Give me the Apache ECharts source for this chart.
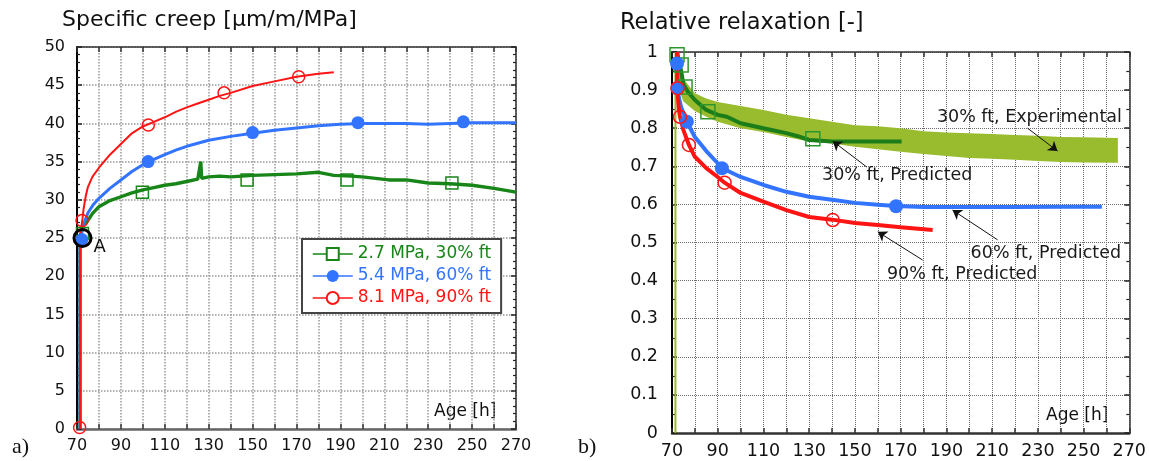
<!DOCTYPE html>
<html><head><meta charset="utf-8">
<script src="https://cdn.jsdelivr.net/npm/echarts@6/dist/echarts.min.js"></script>
<style>html,body{margin:0;padding:0;background:#fff}#c{width:1149px;height:461px}</style>
</head><body><div id="c"></div>
<script>
// ---------- tick labels ----------
const ageTickLabels = [70, 90, 110, 130, 150, 170, 190, 210, 230, 250, 270];
const creepTickLabels = [0, 5, 10, 15, 20, 25, 30, 35, 40, 45, 50];
const relaxTickLabels = [0, 0.1, 0.2, 0.3, 0.4, 0.5, 0.6, 0.7, 0.8, 0.9, 1];

// ---------- a) specific creep [age h, µm/m/MPa] ----------
const seriesNamesA = ['2.7 MPa, 30% ft', '5.4 MPa, 60% ft', '8.1 MPa, 90% ft'];
const creep30 = [[71.4,0],[71.4,25.3],[72,25.8],[73,26.6],[75,27.3],[77,28.2],[80,29.1],[85,29.9],[90,30.4],[95,30.9],[100,31.3],[105,31.6],[110,31.9],[115,32.1],[120,32.4],[125,32.7],[126.4,35.0],[126.8,32.8],[130,33.0],[135,33.1],[140,33.0],[145,33.1],[150,33.2],[160,33.3],[170,33.4],[180,33.6],[187,33.2],[195,33.1],[200,33.0],[212,32.6],[220,32.6],[230,32.2],[240,32.1],[250,31.9],[260,31.5],[270,31.0]];
const creep60 = [[71.4,0],[71.4,24.8],[72,25.5],[73,26.8],[75,28.3],[77.5,29.4],[80,30.2],[85,31.5],[90,32.6],[95,33.7],[100,34.6],[105,35.3],[110,35.9],[115,36.5],[120,37.0],[130,37.8],[140,38.3],[150,38.7],[160,39.1],[170,39.4],[180,39.7],[190,39.9],[200,40.0],[210,40.0],[220,40.0],[230,39.9],[240,40.0],[250,40.1],[260,40.1],[270,40.1]];
const creep90 = [[71.4,0],[71.4,25],[72,26.5],[72.5,27.5],[73,28.8],[74,30.5],[75,31.7],[77,33.0],[80,34.2],[85,35.9],[90,37.3],[95,38.7],[100,39.6],[105,40.2],[110,40.8],[115,41.5],[120,42.1],[125,42.6],[130,43.1],[135,43.6],[140,44.0],[150,44.9],[160,45.5],[170,46.1],[180,46.5],[187,46.7]];
const creep30Marks = [[72.5,25.6],[99.8,31.0],[147.5,32.6],[193,32.6],[240.8,32.2]];
const creep60Marks = [[72.2,24.8],[102.4,35.0],[150,38.8],[198,40.1],[246,40.2]];
const creep90Marks = [[71.2,0.2],[72.3,27.3],[102.5,39.8],[137,44.0],[171,46.1]];
const pointA = [[72.5, 25]];

// ---------- b) relative relaxation [age h, -] ----------
const bandAge  = [72, 73, 75, 80, 85, 90, 100, 110, 120, 130, 140, 150, 160, 170, 180, 190, 200, 210, 220, 230, 240, 250, 265];
const bandLow  = [0.93,0.90,0.87,0.845,0.83,0.817,0.80,0.79,0.777,0.765,0.76,0.751,0.745,0.738,0.732,0.727,0.722,0.72,0.717,0.714,0.711,0.71,0.709];
const bandHigh = [0.99,0.96,0.93,0.892,0.878,0.869,0.858,0.848,0.835,0.826,0.817,0.808,0.805,0.80,0.792,0.789,0.787,0.785,0.782,0.78,0.777,0.776,0.774];
const loadLine = [[71.5,0],[71.5,1]];
const relax30 = [[72.3,1.0],[73,0.975],[74,0.95],[75,0.915],[77,0.895],[80,0.874],[85,0.848],[90,0.835],[94,0.83],[100,0.813],[110,0.80],[120,0.787],[125,0.779],[130,0.769],[140,0.765],[150,0.765],[170.4,0.765]];
const relax60 = [[72.2,0.97],[72.4,0.905],[73,0.88],[74,0.855],[76.5,0.817],[80,0.777],[85,0.74],[90,0.708],[92,0.695],[100,0.672],[110,0.651],[120,0.633],[130,0.62],[140,0.612],[150,0.604],[160,0.599],[168,0.596],[180,0.593],[200,0.593],[220,0.593],[240,0.594],[258,0.594]];
const relax90 = [[72.2,1.0],[72.3,0.9],[73,0.85],[73.5,0.83],[75,0.795],[77.4,0.756],[80,0.725],[85,0.695],[90,0.672],[93,0.657],[100,0.63],[110,0.607],[120,0.585],[130,0.567],[140,0.56],[150,0.551],[160,0.546],[170,0.54],[184,0.533]];
const relax30Marks = [[72.2,0.993],[74,0.966],[75.7,0.908],[85.7,0.843],[131.6,0.772]];
const relax60Marks = [[72.2,0.97],[72.4,0.905],[76.5,0.817],[91.8,0.695],[168,0.595]];
const relax90Marks = [[72.4,0.905],[73.5,0.83],[77.4,0.756],[93,0.657],[140.3,0.559]];

// annotations (data coordinates of chart b)
const noteTexts = ['30% ft, Experimental', '30% ft, Predicted', '60% ft, Predicted', '90% ft, Predicted'];
const noteAt   = [[226.3,0.829],[168.5,0.675],[233.5,0.472],[196.9,0.415]];
const noteFrom = [[225.5,0.800],[155.2,0.698],[212.4,0.507],[179.6,0.454]];
const noteTo   = [[238.6,0.740],[140.3,0.766],[192.7,0.585],[160.0,0.528]];

// ---------- styling ----------
const FONT = 'DejaVu Sans';
const GREEN = '#178517', BLUE = '#3374ff', RED = '#ff1414', OLIVE = '#99bb2e', DGREEN = '#1a7d1a';

function labelFrom(list){
  return v => { const t = list.find(t => Math.abs(t - v) < 1e-9); return t === undefined ? '' : String(t); };
}
function xAxes(grid, bottomColor, lab, fs, gridColor, gridW){
  return [
    {gridIndex:grid, type:'value', min:70, max:270, interval:10, position:'bottom',
     axisLine:{onZero:false, lineStyle:{color:bottomColor, width:2.5}},
     axisTick:{inside:true, length:5, lineStyle:{color:'#333', width:1.5}},
     axisLabel:{formatter:labelFrom(lab), fontSize:fs, color:'#111', fontFamily:FONT, margin:9, showMinLabel:true, showMaxLabel:true},
     splitLine:{show:true, lineStyle:{type:'dotted', color:gridColor, width:gridW}}},
    {gridIndex:grid, type:'value', min:70, max:270, interval:10, position:'top',
     axisLine:{onZero:false, lineStyle:{color:'#333', width:1.5}},
     axisTick:{inside:true, length:5, lineStyle:{color:'#333', width:1.5}},
     axisLabel:{show:false}, splitLine:{show:false}}
  ];
}
function yAxes(grid, max, interval, minorSplit, lab, fs, margin, gridColor, gridW){
  return [
    {gridIndex:grid, type:'value', min:0, max:max, interval:interval, position:'left',
     axisLine:{onZero:false, lineStyle:{color:'#000', width:2}},
     axisTick:{inside:true, length:5, lineStyle:{color:'#222', width:1.5}},
     minorTick:{show:true, splitNumber:minorSplit, length:3, lineStyle:{color:'#222', width:1.2}},
     axisLabel:{formatter:labelFrom(lab), fontSize:fs, color:'#111', fontFamily:FONT, margin:margin},
     splitLine:{show:true, lineStyle:{type:'dotted', color:gridColor, width:gridW}}},
    {gridIndex:grid, type:'value', min:0, max:max, interval:interval, position:'right',
     axisLine:{onZero:false, lineStyle:{color:'#333', width:1.5}},
     axisTick:{inside:true, length:5, lineStyle:{color:'#222', width:1.5}},
     minorTick:{show:true, splitNumber:minorSplit, length:3, lineStyle:{color:'#222', width:1.2}},
     axisLabel:{show:false}, splitLine:{show:false}}
  ];
}
function marks(data, xi, symbol, size, color, filled, z){
  return {type:'scatter', xAxisIndex:xi, yAxisIndex:xi, data:data, symbol:symbol, symbolSize:size, z:z||5,
    itemStyle: filled ? {color:color, opacity:1} : {color:'rgba(0,0,0,0)', borderColor:color, borderWidth:1.5, opacity:1}};
}

const chart = echarts.init(document.getElementById('c'), null, {renderer:'canvas'});
chart.setOption({
  animation:false,
  backgroundColor:'#fff',
  title:[
    {text:'Specific creep [\u03bcm/m/MPa]', left:57, top:4, textStyle:{fontSize:22, fontWeight:'normal', fontFamily:FONT, color:'#111'}},
    {text:'Relative relaxation [-]', left:615, top:7, textStyle:{fontSize:22.5, fontWeight:'normal', fontFamily:FONT, color:'#111'}}
  ],
  grid:[
    {left:77, top:47, width:439, height:382},
    {left:672, top:52, width:458, height:381}
  ],
  xAxis:[].concat(xAxes(0, '#666', ageTickLabels, 16, '#999', 1.5), xAxes(1, '#333', ageTickLabels, 17.5, '#6a6a6a', 1)),
  yAxis:[].concat(yAxes(0, 50, 5, 5, creepTickLabels, 16, 12, '#999', 1.5), yAxes(1, 1, 0.1, 2, relaxTickLabels, 17.5, 14, '#6a6a6a', 1)),
  legend:{
    orient:'vertical', left:302, top:239, padding:[6,10,6,10], itemGap:4, itemWidth:40, itemHeight:15,
    borderColor:'#444', borderWidth:2, backgroundColor:'#fff', selectedMode:false,
    lineStyle:{width:1.5},
    textStyle:{fontSize:17, fontFamily:FONT, lineHeight:18},
    data:[
      {name:seriesNamesA[0], textStyle:{color:GREEN}},
      {name:seriesNamesA[1], textStyle:{color:BLUE}},
      {name:seriesNamesA[2], textStyle:{color:RED}}
    ]
  },
  graphic:[
    {type:'text', left:434, top:403, style:{text:'Age [h]', fontSize:17, fontFamily:FONT, fill:'#111'}},
    {type:'text', left:1046, top:407, style:{text:'Age [h]', fontSize:17, fontFamily:FONT, fill:'#111'}},
    {type:'text', left:12, top:436, style:{text:'a)', fontSize:22, fontFamily:'Liberation Serif', fill:'#111'}},
    {type:'text', left:578, top:436, style:{text:'b)', fontSize:22, fontFamily:'Liberation Serif', fill:'#111'}}
  ],
  series:[
    // ----- a) -----
    {name:seriesNamesA[0], type:'line', xAxisIndex:0, yAxisIndex:0, data:creep30, symbol:'emptyRect', showSymbol:false,
     color:GREEN, lineStyle:{color:GREEN, width:3.4}, z:2},
    {name:seriesNamesA[1], type:'line', xAxisIndex:0, yAxisIndex:0, data:creep60, symbol:'circle', showSymbol:false,
     color:BLUE, lineStyle:{color:BLUE, width:3}, z:3},
    {name:seriesNamesA[2], type:'line', xAxisIndex:0, yAxisIndex:0, data:creep90, symbol:'emptyCircle', showSymbol:false,
     color:RED, lineStyle:{color:RED, width:2}, z:4},
    marks(creep30Marks, 0, 'rect', 12, GREEN, false),
    marks(creep60Marks, 0, 'circle', 13, BLUE, true),
    marks(creep90Marks, 0, 'circle', 12, RED, false),
    {type:'scatter', xAxisIndex:0, yAxisIndex:0, data:pointA, symbol:'circle', symbolSize:17, z:6,
     itemStyle:{color:'rgba(0,0,0,0)', borderColor:'#000', borderWidth:3, opacity:1},
     label:{show:true, formatter:'A', position:'right', distance:1, offset:[0,9], fontSize:18, fontFamily:FONT, color:'#111'}},
    // ----- b) -----
    {type:'line', xAxisIndex:2, yAxisIndex:2, data:loadLine, symbol:'none', lineStyle:{color:OLIVE, width:2}, z:1},
    {type:'custom', xAxisIndex:2, yAxisIndex:2, data:[[bandAge[0], bandLow[0]]], z:1,
     renderItem:function(params, api){
       if (params.dataIndex !== 0) return;
       const pts = [];
       for (let i = 0; i < bandAge.length; i++) pts.push(api.coord([bandAge[i], bandHigh[i]]));
       for (let i = bandAge.length - 1; i >= 0; i--) pts.push(api.coord([bandAge[i], bandLow[i]]));
       return {type:'polygon', shape:{points:pts}, style:{fill:OLIVE}};
     }},
    {type:'line', xAxisIndex:2, yAxisIndex:2, data:relax30, symbol:'none', lineStyle:{color:DGREEN, width:4}, z:2},
    {type:'line', xAxisIndex:2, yAxisIndex:2, data:relax60, symbol:'none', lineStyle:{color:BLUE, width:4}, z:3},
    {type:'line', xAxisIndex:2, yAxisIndex:2, data:relax90, symbol:'none', lineStyle:{color:RED, width:4}, z:4},
    marks(relax30Marks, 2, 'rect', 14, '#2c962c', false),
    marks(relax60Marks, 2, 'circle', 14, BLUE, true),
    marks(relax90Marks, 2, 'circle', 13, RED, false, 6),
    {type:'scatter', xAxisIndex:2, yAxisIndex:2, symbolSize:1, itemStyle:{color:'rgba(0,0,0,0)', opacity:1}, z:7,
     data:noteAt.map((p, i) => [p[0], p[1], noteTexts[i]]),
     label:{show:true, position:'inside', formatter:p => p.value[2], fontSize:17.5, fontFamily:FONT, color:'#1a1a1a', opacity:1, textBorderWidth:0},
     markLine:{silent:true, symbol:['none','arrow'], symbolSize:9, label:{show:false},
       lineStyle:{color:'#111', width:1, type:'solid', opacity:1},
       data:noteFrom.map((f, i) => [{coord:f}, {coord:noteTo[i]}])}}
  ]
});
</script></body></html>
